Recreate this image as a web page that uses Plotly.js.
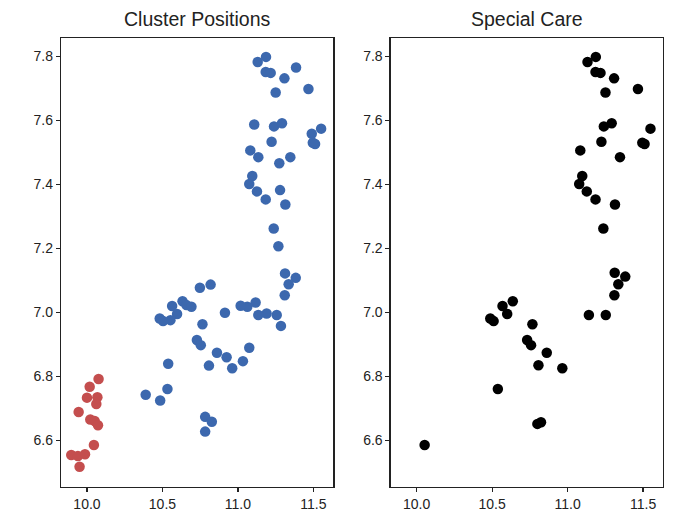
<!DOCTYPE html>
<html>
<head>
<meta charset="utf-8">
<script src="https://cdn.plot.ly/plotly-3.0.1.min.js"></script>
<style>html,body{margin:0;padding:0;background:#fff;}#chart{width:675px;height:513px;}</style>
</head>
<body>
<div id="chart"></div>
<script>
// Left panel: cluster 1 (blue)
const blueX = [11.131,11.186,11.184,11.217,11.308,11.385,11.250,11.467,11.108,11.239,11.292,11.223,11.496,11.511,11.551,11.489,11.082,11.135,11.274,11.347,11.095,11.075,11.126,11.184,11.279,11.314,11.237,11.268,11.312,11.383,11.336,11.310,11.285,11.257,11.190,11.135,11.117,11.062,11.018,10.914,10.748,10.819,10.633,10.659,10.692,10.564,10.597,10.553,10.482,10.504,10.765,10.728,10.754,10.861,10.925,10.962,10.808,11.033,11.075,10.538,10.533,10.389,10.485,10.783,10.827,10.783];
const blueY = [7.782,7.798,7.751,7.748,7.731,7.765,7.687,7.698,7.587,7.581,7.591,7.533,7.530,7.526,7.574,7.558,7.506,7.485,7.466,7.485,7.426,7.401,7.378,7.353,7.382,7.337,7.262,7.207,7.122,7.108,7.088,7.054,6.958,6.992,6.997,6.992,7.031,7.018,7.021,6.999,7.077,7.087,7.035,7.023,7.018,7.020,6.995,6.976,6.981,6.973,6.963,6.914,6.898,6.874,6.860,6.826,6.834,6.848,6.890,6.840,6.761,6.743,6.725,6.674,6.659,6.628];
// Left panel: cluster 2 (red)
const redX = [10.077,10.018,10.000,10.069,10.062,9.945,10.022,10.051,10.073,10.046,9.896,9.940,9.987,9.951];
const redY = [6.792,6.768,6.734,6.735,6.714,6.689,6.666,6.661,6.648,6.586,6.555,6.552,6.557,6.518];
// Right panel: special care (black)
const careX = [11.132,11.187,11.185,11.218,11.308,11.251,11.466,11.240,11.292,11.224,11.495,11.510,11.549,11.084,11.347,11.097,11.077,11.127,11.185,11.314,11.237,11.312,11.382,11.336,11.310,11.253,11.141,10.637,10.569,10.600,10.488,10.510,10.767,10.732,10.758,10.862,10.965,10.807,10.538,10.800,10.824,10.053];
const careY = [7.782,7.798,7.751,7.748,7.731,7.687,7.698,7.581,7.591,7.533,7.530,7.526,7.574,7.506,7.485,7.426,7.401,7.378,7.353,7.337,7.262,7.124,7.112,7.088,7.054,6.992,6.992,7.035,7.020,6.995,6.981,6.973,6.963,6.914,6.898,6.874,6.826,6.835,6.761,6.652,6.657,6.586];
const titles = ["Cluster Positions", "Special Care"];
const xTicks = [10.0, 10.5, 11.0, 11.5];
const yTicks = [6.6, 6.8, 7.0, 7.2, 7.4, 7.6, 7.8];

const msize = 10.5;
const traces = [
  {x: blueX, y: blueY, type: 'scatter', mode: 'markers', marker: {color: '#3c68ae', size: msize}, xaxis: 'x', yaxis: 'y'},
  {x: redX, y: redY, type: 'scatter', mode: 'markers', marker: {color: '#c44e4e', size: msize}, xaxis: 'x', yaxis: 'y'},
  {x: careX, y: careY, type: 'scatter', mode: 'markers', marker: {color: '#000000', size: msize}, xaxis: 'x2', yaxis: 'y2'}
];

const axisCommon = {
  showgrid: false, zeroline: false, showline: true, linecolor: '#222', linewidth: 1.2, mirror: true,
  ticks: 'outside', ticklen: 4, tickwidth: 1.2, tickcolor: '#222',
  tickfont: {family: 'Liberation Sans, Arial, sans-serif', size: 14, color: '#222'}
};
const xax = Object.assign({}, axisCommon, {range: [9.828, 11.632], tickvals: xTicks, ticktext: xTicks.map(v => v.toFixed(1))});
const yax = Object.assign({}, axisCommon, {range: [6.455, 7.857], tickvals: yTicks, ticktext: yTicks.map(v => v.toFixed(1))});

const layout = {
  width: 675, height: 513,
  margin: {l: 61, r: 12, t: 38, b: 26},
  paper_bgcolor: '#fff', plot_bgcolor: '#fff',
  showlegend: false,
  xaxis: Object.assign({}, xax, {domain: [0, 0.4524], anchor: 'y'}),
  yaxis: Object.assign({}, yax, {domain: [0, 1], anchor: 'x'}),
  xaxis2: Object.assign({}, xax, {domain: [0.5476, 1], anchor: 'y2'}),
  yaxis2: Object.assign({}, yax, {domain: [0, 1], anchor: 'x2'}),
  annotations: titles.map((t, i) => ({
    text: t, xref: 'paper', yref: 'paper', x: i === 0 ? 0.2262 : 0.7738, y: 1,
    xanchor: 'center', yanchor: 'bottom', yshift: 6, showarrow: false,
    font: {family: 'Liberation Sans, Arial, sans-serif', size: 19.5, color: '#222'}
  }))
};

Plotly.newPlot('chart', traces, layout, {staticPlot: true});
</script>
</body>
</html>
